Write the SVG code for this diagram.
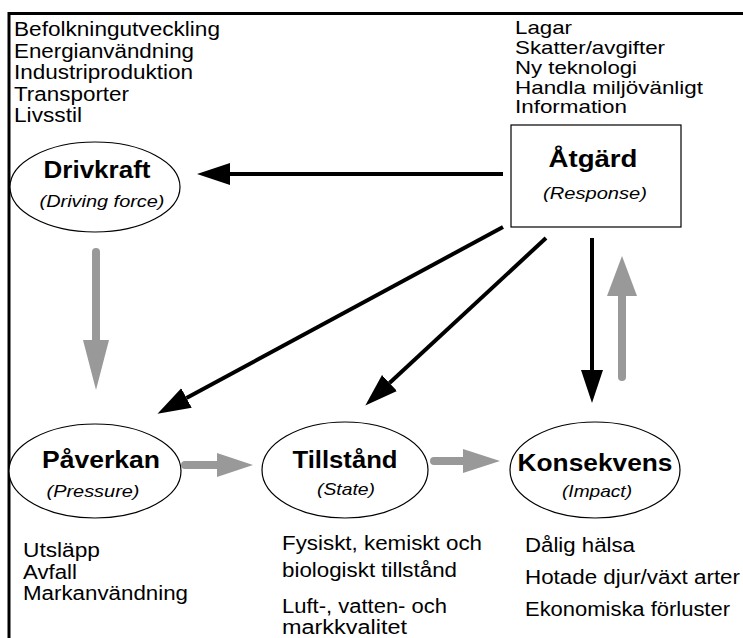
<svg xmlns="http://www.w3.org/2000/svg" width="743" height="638" viewBox="0 0 743 638">
  <style>
    .t { font-family: "Liberation Sans", Arial, sans-serif; font-size: 19.5px; fill: #000; }
    .tr { font-family: "Liberation Sans", Arial, sans-serif; font-size: 18.5px; fill: #000; }
    .h { font-family: "Liberation Sans", Arial, sans-serif; font-size: 23px; font-weight: bold; fill: #000; text-anchor: middle; }
    .s { font-family: "Liberation Sans", Arial, sans-serif; font-size: 17px; font-style: italic; fill: #000; text-anchor: middle; }
    .shape { fill: #fff; stroke: #000; stroke-width: 1.2; }
    .frame { stroke: #000; stroke-width: 3; fill: none; }
    .black { stroke: #000; stroke-width: 4; fill: none; }
    .grey { stroke: #999; stroke-width: 8; fill: none; stroke-linecap: round; }
    .greyhead { fill: #999; }
  </style>
  <defs>
    <marker id="head" markerUnits="userSpaceOnUse" markerWidth="34" markerHeight="24" refX="0" refY="12" orient="auto">
      <path d="M0,1 L33,12 L0,23 Z" fill="#000"/>
    </marker>
  </defs>

  <rect x="0" y="0" width="743" height="638" fill="#fff"/>

  <!-- frame (top and left rules only) -->
  <path class="frame" d="M9,638 V13.5 H743"/>

  <!-- Driving force -->
  <g id="node-drivkraft">
    <text class="t" x="14" y="36" textLength="206" lengthAdjust="spacingAndGlyphs">Befolkningutveckling</text>
    <text class="t" x="14" y="57.5" textLength="180" lengthAdjust="spacingAndGlyphs">Energianvändning</text>
    <text class="t" x="14" y="79" textLength="179" lengthAdjust="spacingAndGlyphs">Industriproduktion</text>
    <text class="t" x="14" y="100.5" textLength="115" lengthAdjust="spacingAndGlyphs">Transporter</text>
    <text class="t" x="14" y="122" textLength="68" lengthAdjust="spacingAndGlyphs">Livsstil</text>
    <ellipse class="shape" cx="95" cy="187" rx="85" ry="45"/>
    <text class="h" x="97" y="178" textLength="107" lengthAdjust="spacingAndGlyphs">Drivkraft</text>
    <text class="s" x="102" y="207" textLength="125" lengthAdjust="spacingAndGlyphs">(Driving force)</text>
  </g>

  <!-- Response -->
  <g id="node-atgard">
    <text class="tr" x="515" y="34" textLength="57" lengthAdjust="spacingAndGlyphs">Lagar</text>
    <text class="tr" x="515" y="54" textLength="150" lengthAdjust="spacingAndGlyphs">Skatter/avgifter</text>
    <text class="tr" x="515" y="73.5" textLength="122" lengthAdjust="spacingAndGlyphs">Ny teknologi</text>
    <text class="tr" x="515" y="93.5" textLength="188" lengthAdjust="spacingAndGlyphs">Handla miljövänligt</text>
    <text class="tr" x="515" y="113" textLength="112" lengthAdjust="spacingAndGlyphs">Information</text>
    <rect class="shape" x="511" y="125" width="170" height="102"/>
    <text class="h" x="593" y="167" textLength="89" lengthAdjust="spacingAndGlyphs">Åtgärd</text>
    <text class="s" x="595" y="199" textLength="104" lengthAdjust="spacingAndGlyphs">(Response)</text>
  </g>

  <!-- Pressure -->
  <g id="node-paverkan">
    <ellipse class="shape" cx="95" cy="471" rx="86" ry="47"/>
    <text class="h" x="101" y="468" textLength="118" lengthAdjust="spacingAndGlyphs">Påverkan</text>
    <text class="s" x="93" y="497" textLength="93" lengthAdjust="spacingAndGlyphs">(Pressure)</text>
    <text class="t" x="23" y="557" textLength="77" lengthAdjust="spacingAndGlyphs">Utsläpp</text>
    <text class="t" x="23" y="578.5" textLength="54" lengthAdjust="spacingAndGlyphs">Avfall</text>
    <text class="t" x="23" y="600" textLength="165" lengthAdjust="spacingAndGlyphs">Markanvändning</text>
  </g>

  <!-- State -->
  <g id="node-tillstand">
    <ellipse class="shape" cx="345" cy="470" rx="83" ry="48"/>
    <text class="h" x="345" y="468" textLength="105" lengthAdjust="spacingAndGlyphs">Tillstånd</text>
    <text class="s" x="346" y="495" textLength="58" lengthAdjust="spacingAndGlyphs">(State)</text>
    <text class="t" x="282" y="550" textLength="200" lengthAdjust="spacingAndGlyphs">Fysiskt, kemiskt och</text>
    <text class="t" x="282" y="577" textLength="175" lengthAdjust="spacingAndGlyphs">biologiskt tillstånd</text>
    <text class="t" x="282" y="613" textLength="165" lengthAdjust="spacingAndGlyphs">Luft-, vatten- och</text>
    <text class="t" x="282" y="634" textLength="125" lengthAdjust="spacingAndGlyphs">markkvalitet</text>
  </g>

  <!-- Impact -->
  <g id="node-konsekvens">
    <ellipse class="shape" cx="595" cy="470" rx="85" ry="48"/>
    <text class="h" x="595" y="471" textLength="155" lengthAdjust="spacingAndGlyphs">Konsekvens</text>
    <text class="s" x="597" y="497" textLength="70" lengthAdjust="spacingAndGlyphs">(Impact)</text>
    <text class="t" x="525" y="552" textLength="110" lengthAdjust="spacingAndGlyphs">Dålig hälsa</text>
    <text class="t" x="525" y="584" textLength="215" lengthAdjust="spacingAndGlyphs">Hotade djur/växt arter</text>
    <text class="t" x="525" y="616" textLength="205" lengthAdjust="spacingAndGlyphs">Ekonomiska förluster</text>
  </g>

  <!-- connectors -->
  <g id="connectors">
    <!-- black: response acting on the other stages -->
    <path class="black" d="M503,174 H230" marker-end="url(#head)"/>
    <path class="black" d="M503,227 L186.5,398" marker-end="url(#head)"/>
    <path class="black" d="M546,238 L389.5,383" marker-end="url(#head)"/>
    <path class="black" d="M592,238 V370" marker-end="url(#head)"/>

    <!-- grey: causal chain -->
    <path class="grey" d="M96,252 V340"/>
    <polygon class="greyhead" points="83,340 109,340 96,390"/>

    <path class="grey" d="M185,465 H217"/>
    <polygon class="greyhead" points="217,453 217,477 253,465"/>

    <path class="grey" d="M434,461 H463"/>
    <polygon class="greyhead" points="463,449 463,473 500,461"/>

    <path class="grey" d="M622,377 V296"/>
    <polygon class="greyhead" points="607,296 637,296 622,256"/>
  </g>
</svg>
